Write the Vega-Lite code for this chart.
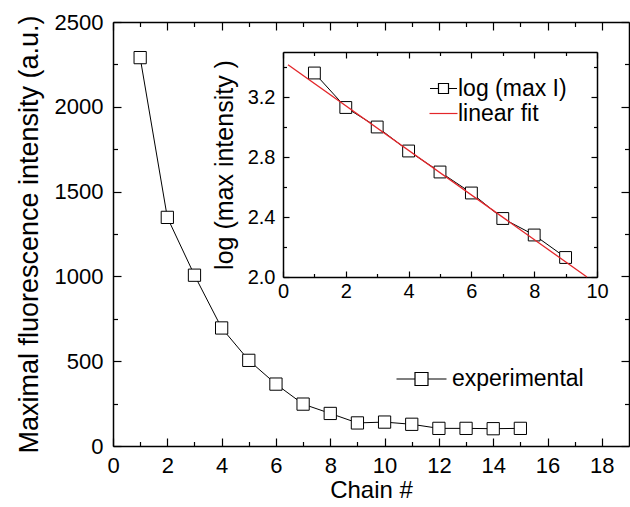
{
  "$schema": "https://vega.github.io/schema/vega-lite/v6.json",
  "width": 516,
  "height": 424,
  "autosize": "none",
  "padding": {"left": 113, "top": 22, "right": 1, "bottom": 61},
  "background": "white",
  "config": {
    "view": {"stroke": null},
    "font": "Liberation Sans",
    "axis": {
      "grid": false,
      "labelFlush": false,
      "domainColor": "black",
      "tickColor": "black",
      "labelColor": "black",
      "titleColor": "black",
      "labelFont": "Liberation Sans",
      "titleFont": "Liberation Sans",
      "titleFontWeight": "normal",
      "domainWidth": 1.5,
      "tickWidth": 1.2
    },
    "legend": {"labelFont": "Liberation Sans", "labelColor": "black"}
  },
  "datasets": {
    "main": [
      {"chain": 1, "intensity": 2290, "series": "experimental"},
      {"chain": 2, "intensity": 1348, "series": "experimental"},
      {"chain": 3, "intensity": 1007, "series": "experimental"},
      {"chain": 4, "intensity": 696, "series": "experimental"},
      {"chain": 5, "intensity": 505, "series": "experimental"},
      {"chain": 6, "intensity": 365, "series": "experimental"},
      {"chain": 7, "intensity": 247, "series": "experimental"},
      {"chain": 8, "intensity": 192, "series": "experimental"},
      {"chain": 9, "intensity": 136, "series": "experimental"},
      {"chain": 10, "intensity": 141, "series": "experimental"},
      {"chain": 11, "intensity": 128, "series": "experimental"},
      {"chain": 12, "intensity": 104, "series": "experimental"},
      {"chain": 13, "intensity": 104, "series": "experimental"},
      {"chain": 14, "intensity": 102, "series": "experimental"},
      {"chain": 15, "intensity": 104, "series": "experimental"}
    ],
    "logI": [
      {"chain": 1, "logI": 3.36, "series": "log (max I)"},
      {"chain": 2, "logI": 3.13, "series": "log (max I)"},
      {"chain": 3, "logI": 3.0, "series": "log (max I)"},
      {"chain": 4, "logI": 2.84, "series": "log (max I)"},
      {"chain": 5, "logI": 2.70, "series": "log (max I)"},
      {"chain": 6, "logI": 2.56, "series": "log (max I)"},
      {"chain": 7, "logI": 2.39, "series": "log (max I)"},
      {"chain": 8, "logI": 2.28, "series": "log (max I)"},
      {"chain": 9, "logI": 2.13, "series": "log (max I)"}
    ],
    "fit": [
      {"chain": 0.16, "logI": 3.415, "series": "linear fit"},
      {"chain": 9.68, "logI": 2.0, "series": "linear fit"}
    ]
  },
  "layer": [
    {
      "data": {"name": "main"},
      "layer": [
        {
          "mark": {"type": "line", "strokeWidth": 1},
          "encoding": {
            "x": {"field": "chain", "type": "quantitative",
              "scale": {"domain": [0, 19], "nice": false, "zero": false},
              "axis": {"orient": "bottom", "values": [0, 2, 4, 6, 8, 10, 12, 14, 16, 18], "tickSize": -8, "labelFlush": false,
                "labelFontSize": 22, "labelPadding": 17.5, "title": "Chain #", "titleFontSize": 24, "titlePadding": 2}},
            "y": {"field": "intensity", "type": "quantitative",
              "scale": {"domain": [0, 2500], "nice": false, "zero": false},
              "axis": {"orient": "left", "values": [0, 500, 1000, 1500, 2000, 2500], "format": "d", "tickSize": -8, "labelFlush": false,
                "labelFontSize": 22, "labelPadding": 18, "title": "Maximal fluorescence intensity (a.u.)", "titleFontSize": 27, "titlePadding": 11}},
            "color": {"field": "series", "type": "nominal", "scale": {"domain": ["experimental"], "range": ["black"]},
              "legend": {"title": null, "orient": "none", "legendX": 297, "legendY": 345.5, "padding": 0,
                "symbolSize": 100, "symbolStrokeWidth": 1.2, "symbolFillColor": "white", "labelOffset": 19, "labelFontSize": 23,
                "encode": {"symbols": {"update": {"shape": {"signal": "'M-5,0H-1.3M1.3,0H5M-1.3,-1.3H1.3V1.3H-1.3Z'"}}}}}}
          }
        },
        {
          "mark": {"type": "point", "shape": "square", "filled": true, "fill": "white", "stroke": "black", "strokeWidth": 1, "size": 150, "opacity": 1},
          "encoding": {
            "x": {"field": "chain", "type": "quantitative",
              "scale": {"domain": [0, 19], "nice": false, "zero": false},
              "axis": {"orient": "bottom", "values": [1, 3, 5, 7, 9, 11, 13, 15, 17], "tickSize": -4.5, "labels": false, "domain": false, "title": null}},
            "y": {"field": "intensity", "type": "quantitative",
              "scale": {"domain": [0, 2500], "nice": false, "zero": false},
              "axis": {"orient": "left", "values": [250, 750, 1250, 1750, 2250], "tickSize": -4.5, "labels": false, "domain": false, "title": null}}
          }
        },
        {
          "mark": {"type": "point", "opacity": 0},
          "encoding": {
            "x": {"field": "chain", "type": "quantitative",
              "scale": {"domain": [0, 19], "nice": false, "zero": false},
              "axis": {"orient": "top", "values": [0, 2, 4, 6, 8, 10, 12, 14, 16, 18], "tickSize": -8, "labels": false, "title": null}},
            "y": {"field": "intensity", "type": "quantitative",
              "scale": {"domain": [0, 2500], "nice": false, "zero": false},
              "axis": {"orient": "right", "values": [0, 500, 1000, 1500, 2000, 2500], "tickSize": -8, "labels": false, "title": null}}
          }
        },
        {
          "mark": {"type": "point", "opacity": 0},
          "encoding": {
            "x": {"field": "chain", "type": "quantitative",
              "scale": {"domain": [0, 19], "nice": false, "zero": false},
              "axis": {"orient": "top", "values": [1, 3, 5, 7, 9, 11, 13, 15, 17], "tickSize": -4.5, "labels": false, "domain": false, "title": null}},
            "y": {"field": "intensity", "type": "quantitative",
              "scale": {"domain": [0, 2500], "nice": false, "zero": false},
              "axis": {"orient": "right", "values": [250, 750, 1250, 1750, 2250], "tickSize": -4.5, "labels": false, "domain": false, "title": null}}
          }
        }
      ],
      "resolve": {"axis": {"x": "independent", "y": "independent"}}
    },
    {
      "layer": [
        {
          "data": {"name": "logI"},
          "mark": {"type": "line", "strokeWidth": 1},
          "encoding": {
            "x": {"field": "chain", "type": "quantitative",
              "scale": {"domain": [0, 10], "range": [170, 484], "nice": false, "zero": false},
              "axis": {"orient": "bottom", "offset": -169, "values": [0, 2, 4, 6, 8, 10], "tickSize": -6, "labelFlush": false,
                "labelFontSize": 20, "labelPadding": 10.5, "title": null}},
            "y": {"field": "logI", "type": "quantitative",
              "scale": {"domain": [2.0, 3.5], "range": [255, 30], "nice": false, "zero": false},
              "axis": {"orient": "left", "offset": -170, "values": [2.0, 2.4, 2.8, 3.2], "format": ".1f", "tickSize": -6, "labelFlush": false,
                "labelFontSize": 20, "labelPadding": 14, "title": "log (max intensity )", "titleFontSize": 25, "titlePadding": 10}},
            "color": {"field": "series", "type": "nominal",
              "scale": {"domain": ["log (max I)", "linear fit"], "range": ["black", "#e3262a"]},
              "legend": {"title": null, "orient": "none", "legendX": 319, "legendY": 55, "padding": 0,
                "symbolSize": 100, "symbolStrokeWidth": 1.2, "symbolFillColor": "white", "labelOffset": 3,
                "labelFontSize": 23, "rowPadding": 1,
                "encode": {"symbols": {"update": {"shape": {"signal": "datum.value === 'linear fit' ? 'M-2.8,0H2.8' : 'M-2.7,0H-1M1,0H2.7M-1,-1H1V1H-1Z'"}}}}}}
          }
        },
        {
          "data": {"name": "logI"},
          "mark": {"type": "point", "shape": "square", "filled": true, "fill": "white", "stroke": "black", "strokeWidth": 1, "size": 140, "opacity": 1},
          "encoding": {
            "x": {"field": "chain", "type": "quantitative",
              "scale": {"domain": [0, 10], "range": [170, 484], "nice": false, "zero": false},
              "axis": {"orient": "bottom", "offset": -169, "values": [1, 3, 5, 7, 9], "tickSize": -3.5, "labels": false, "domain": false, "title": null}},
            "y": {"field": "logI", "type": "quantitative",
              "scale": {"domain": [2.0, 3.5], "range": [255, 30], "nice": false, "zero": false},
              "axis": {"orient": "left", "offset": -170, "values": [2.2, 2.6, 3.0, 3.4], "tickSize": -3.5, "labels": false, "domain": false, "title": null}}
          }
        },
        {
          "data": {"name": "fit"},
          "mark": {"type": "line", "strokeWidth": 1.3},
          "encoding": {
            "x": {"field": "chain", "type": "quantitative",
              "scale": {"domain": [0, 10], "range": [170, 484], "nice": false, "zero": false},
              "axis": {"orient": "top", "offset": -30, "values": [0, 2, 4, 6, 8, 10], "tickSize": -6, "labels": false, "title": null}},
            "y": {"field": "logI", "type": "quantitative",
              "scale": {"domain": [2.0, 3.5], "range": [255, 30], "nice": false, "zero": false},
              "axis": {"orient": "right", "offset": -32, "values": [2.0, 2.4, 2.8, 3.2], "tickSize": -6, "labels": false, "title": null}},
            "color": {"field": "series", "type": "nominal",
              "scale": {"domain": ["log (max I)", "linear fit"], "range": ["black", "#e3262a"]}}
          }
        },
        {
          "data": {"name": "logI"},
          "mark": {"type": "point", "opacity": 0},
          "encoding": {
            "x": {"field": "chain", "type": "quantitative",
              "scale": {"domain": [0, 10], "range": [170, 484], "nice": false, "zero": false},
              "axis": {"orient": "top", "offset": -30, "values": [1, 3, 5, 7, 9], "tickSize": -3.5, "labels": false, "domain": false, "title": null}},
            "y": {"field": "logI", "type": "quantitative",
              "scale": {"domain": [2.0, 3.5], "range": [255, 30], "nice": false, "zero": false},
              "axis": {"orient": "right", "offset": -32, "values": [2.2, 2.6, 3.0, 3.4], "tickSize": -3.5, "labels": false, "domain": false, "title": null}}
          }
        }
      ],
      "resolve": {"axis": {"x": "independent", "y": "independent"}}
    }
  ],
  "resolve": {
    "scale": {"x": "independent", "y": "independent", "color": "independent"},
    "legend": {"color": "independent"}
  }
}
